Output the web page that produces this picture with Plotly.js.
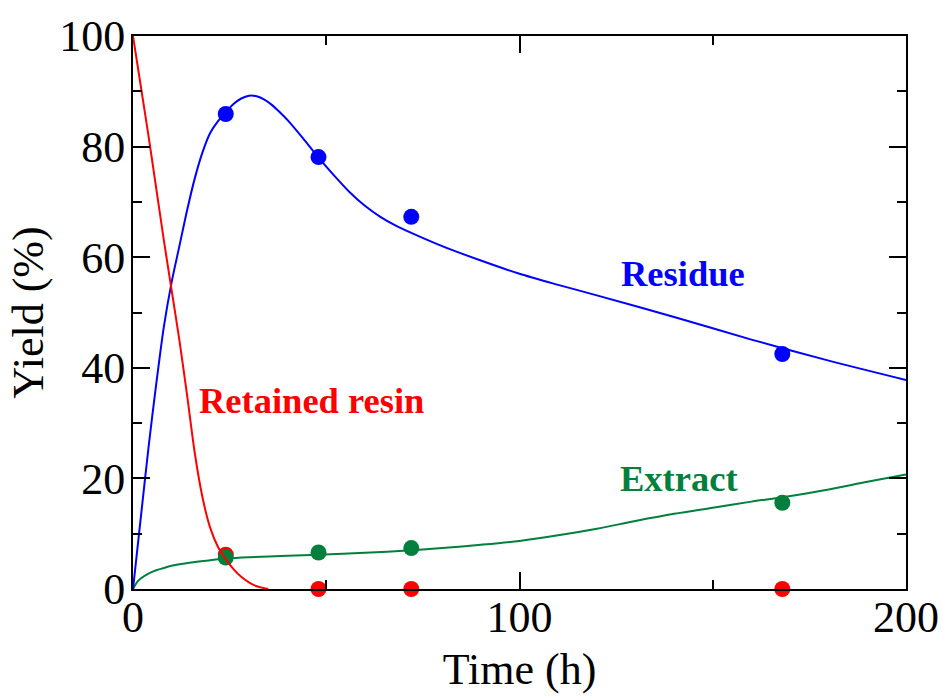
<!DOCTYPE html>
<html>
<head>
<meta charset="utf-8">
<script src="https://cdn.plot.ly/plotly-3.0.1.min.js"></script>
<style>html,body{margin:0;padding:0;background:#fff;}#chart{width:943px;height:697px;}</style>
</head>
<body>
<div id="chart"></div>
<script>
// Observed data points
const timeObs = [24, 48, 72, 168];
const residueObs = [85.9, 78.1, 67.3, 42.5];
const extractObs = [5.7, 6.6, 7.4, 15.6];
const resinObs = [6.2, 0, 0, 0];

// Fitted curves
const residueCurveT = [0,2,4,6,8,10,12,14,16,18,20,22,24,26,28,30,32,34,36,38,40,44,48,52,56,60,64,68,72,80,90,100,110,120,140,160,180,200];
const residueCurveY = [0,12.8,25.5,37,47.5,55.5,62,68.5,74.3,79,82.5,84.6,86.2,87.7,88.7,89.2,89.1,88.5,87.5,86.2,84.8,81.5,78,74.8,71.8,69.3,67.3,65.7,64.4,62.0,59.4,57.0,55.0,53.1,49.2,45.1,41.3,37.8];

const resinCurveT = [0,2,4,6,8,10,12,14,16,18,20,22,24,26,28,30,32,35];
const resinCurveY = [100,91,82,72.5,63,54,45,35,24.5,16.5,11,7.6,5.4,3.6,2.2,1.2,0.5,0];

const extractCurveT = [0,1,2,4,6,8,10,15,20,24,30,40,48,60,72,80,90,100,110,120,130,140,150,160,168,180,190,200];
const extractCurveY = [0,1.2,1.9,2.8,3.4,3.8,4.2,4.8,5.2,5.5,5.75,6.0,6.2,6.55,7.0,7.4,8.0,8.7,9.7,10.9,12.3,13.6,14.7,15.8,16.6,18.0,19.4,20.7];

// Labels
const labelText = ['Residue', 'Extract', 'Retained resin'];
const labelX = [142.4, 141.3, 46.1];
const labelY = [57.0, 20.0, 34.0];

const BLUE = '#0000ff', RED = '#ff0000', GREEN = 'rgb(0,128,60)';
const FONT = 'Liberation Serif, Times New Roman, serif';

const traces = [
  {x: timeObs, y: resinObs, mode: 'markers', marker: {color: RED, size: 16}, cliponaxis: false},
  {x: timeObs, y: extractObs, mode: 'markers', marker: {color: GREEN, size: 16}, cliponaxis: false},
  {x: timeObs, y: residueObs, mode: 'markers', marker: {color: BLUE, size: 16}, cliponaxis: false},
  {x: extractCurveT, y: extractCurveY, mode: 'lines', line: {color: GREEN, width: 2, shape: 'spline', smoothing: 0.8}, cliponaxis: false},
  {x: residueCurveT, y: residueCurveY, mode: 'lines', line: {color: BLUE, width: 2, shape: 'spline', smoothing: 0.8}, cliponaxis: false},
  {x: resinCurveT, y: resinCurveY, mode: 'lines', line: {color: RED, width: 2, shape: 'spline', smoothing: 0.8}, cliponaxis: false}
];

const colors = [BLUE, GREEN, RED];
const annotations = labelText.map((t, i) => ({
  x: labelX[i], y: labelY[i], xref: 'x', yref: 'y', text: '<b>' + t + '</b>',
  showarrow: false, xanchor: 'center', yanchor: 'middle',
  font: {family: FONT, size: 36.5, color: colors[i]}
}));

const axisCommon = {
  showline: true, linewidth: 2, linecolor: '#000', mirror: 'ticks',
  ticks: 'inside', ticklen: 17, tickwidth: 2, tickcolor: '#000',
  showgrid: false, zeroline: false,
  tickfont: {family: FONT, size: 44, color: '#000'}
};

const layout = {
  width: 943, height: 697,
  margin: {l: 133, r: 37, t: 36, b: 108, pad: 0},
  paper_bgcolor: '#fff', plot_bgcolor: '#fff',
  showlegend: false,
  font: {family: FONT, color: '#000'},
  xaxis: Object.assign({}, axisCommon, {
    range: [0, 200], tick0: 0, dtick: 100, ticklabelstandoff: -12,
    minor: {dtick: 50, ticks: 'inside', ticklen: 9, tickwidth: 2, tickcolor: '#000', showgrid: false},
    title: {text: 'Time (h)', font: {family: FONT, size: 44, color: '#000'}, standoff: 12}
  }),
  yaxis: Object.assign({}, axisCommon, {
    range: [0, 100], tick0: 0, dtick: 20, ticklabelstandoff: -3,
    minor: {dtick: 10, ticks: 'inside', ticklen: 9, tickwidth: 2, tickcolor: '#000', showgrid: false},
    title: {text: 'Yield (%)', font: {family: FONT, size: 44, color: '#000'}, standoff: 2}
  }),
  annotations: annotations
};

Plotly.newPlot('chart', traces, layout, {displayModeBar: false, staticPlot: true});
</script>
</body>
</html>
